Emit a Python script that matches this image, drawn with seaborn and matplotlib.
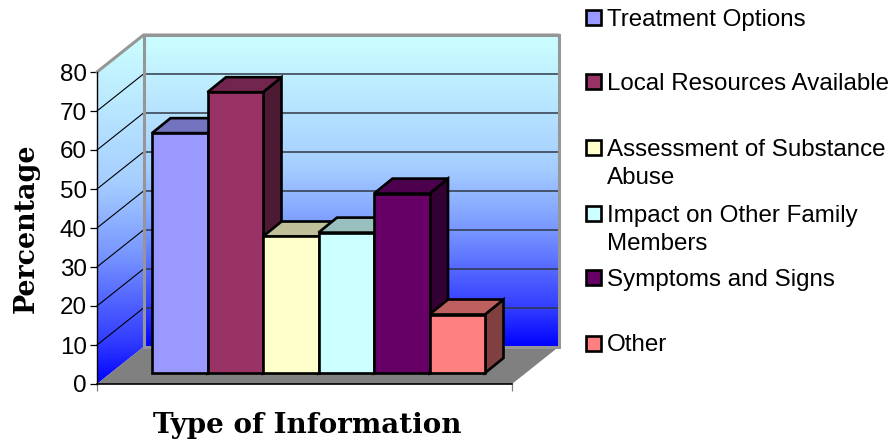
import numpy as np
import matplotlib
matplotlib.use("Agg")
import matplotlib.pyplot as plt
import seaborn as sns
from matplotlib.colors import LinearSegmentedColormap, to_rgb
from matplotlib.patches import Polygon, Rectangle

categories = ["Treatment Options", "Local Resources Available",
              "Assessment of Substance\nAbuse", "Impact on Other Family\nMembers",
              "Symptoms and Signs", "Other"]
values = [61.5, 72, 35, 36, 46, 15]
colors = ["#9999FF", "#993366", "#FFFFCC", "#CCFFFF", "#660066", "#FF8080"]
y_ticks = [0, 10, 20, 30, 40, 50, 60, 70, 80]

W, H = 893, 440
sns.set_theme(style="white")
plt.rcParams["font.family"] = ["Liberation Sans", "DejaVu Sans"]

fig = plt.figure(figsize=(W / 100, H / 100), dpi=100)


def px_axes(left, top, right, bottom):
    return fig.add_axes([left / W, 1 - bottom / H, (right - left) / W, (bottom - top) / H])


# main axes = front plane of the chart box
ax = px_axes(97, 72, 512, 384)
ax.set_xlim(0, 1)
ax.set_ylim(0, 80)
ax.patch.set_visible(False)
dx = 46.5 / 415
dy = 37 / 3.9

wall_cmap = LinearSegmentedColormap.from_list(
    "wall", [(0, "#CCFFFF"), (0.43, "#A5CDFF"), (0.63, "#7896FF"),
             (0.75, "#5569FF"), (0.88, "#323CFF"), (1, "#0000FF")])
grad = np.linspace(0, 1, 256).reshape(-1, 1)

back_wall = Polygon([(dx, dy), (1 + dx, dy), (1 + dx, 80 + dy), (dx, 80 + dy)], closed=True,
                    fc="none", ec="#969696", lw=2.2, clip_on=False, zorder=2.5)
left_wall = Polygon([(0, 0), (dx, dy), (dx, 80 + dy), (0, 80)], closed=True,
                    fc="none", ec="none", clip_on=False, zorder=2.5)
floor = Polygon([(0, 0), (1, 0), (1 + dx, dy), (dx, dy)], closed=True,
                fc="#808080", ec="none", clip_on=False, zorder=1.5)
for p in (back_wall, left_wall, floor):
    ax.add_patch(p)

im1 = ax.imshow(grad, cmap=wall_cmap, aspect="auto", origin="upper", zorder=1,
                extent=(dx, 1 + dx, dy, 80 + dy))
im2 = ax.imshow(grad, cmap=wall_cmap, aspect="auto", origin="upper", zorder=1,
                extent=(0, dx, 0, 80 + dy))
im1.set_clip_box(fig.bbox)
im2.set_clip_box(fig.bbox)
im2.set_clip_path(left_wall)
ax.set_xlim(0, 1)
ax.set_ylim(0, 80)

# gridlines on both walls
for v in y_ticks[1:]:
    ax.plot([dx, 1 + dx], [v + dy, v + dy], color="#303845", lw=1.1, clip_on=False, zorder=2)
    ax.plot([0, dx], [v, v + dy], color="black", lw=0.8, clip_on=False, zorder=2)
ax.plot([0, dx, 1 + dx], [80, 80 + dy, 80 + dy], color="#969696", lw=2.2, clip_on=False, zorder=2.5)

sns.despine(ax=ax)
ax.spines["left"].set_color("black")
ax.spines["bottom"].set_color("black")
ax.spines["left"].set_linewidth(1)
ax.spines["bottom"].set_linewidth(1.2)
ax.set_yticks(y_ticks)
ax.set_xticks([0, 1])
ax.set_xticklabels([])
ax.tick_params(axis="y", length=5, width=0.9, color="black", left=True, pad=2.5, labelsize=17.4, labelcolor="black")
ax.tick_params(axis="x", length=5, width=0.9, color="#808080", bottom=True)
ax.set_ylabel("Percentage", family="DejaVu Serif", fontweight="bold", fontsize=19.4, color="black")
ax.yaxis.set_label_coords(-0.139, 0.5)
ax.set_xlabel("Type of Information", family="DejaVu Serif", fontweight="bold", fontsize=20, color="black")
ax.xaxis.set_label_coords(0.506, -0.091)

# bars sit on the floor, set back from the front plane
bar_ax = px_axes(152, 61, 485, 373)
sns.barplot(x=categories, y=values, hue=categories, palette=colors, saturation=1, dodge=False,
            width=1, legend=False, edgecolor="black", linewidth=1.9, ax=bar_ax)
bar_ax.set_xlim(-0.5, 5.5)
bar_ax.set_ylim(0, 80)
bar_ax.axis("off")
bx = 18.5 / 55.5
by = 15 / 3.9

for i, bar in enumerate(bar_ax.patches):
    x0, w, h = bar.get_x(), bar.get_width(), bar.get_height()
    x1 = x0 + w
    rgb = np.array(to_rgb(colors[i]))
    z = 3 + i
    bar.set_zorder(z)
    bar.set_clip_on(False)
    bar.set_joinstyle("miter")
    side = Polygon([(x1, 0), (x1 + bx, by), (x1 + bx, h + by), (x1, h)], closed=True,
                   fc=rgb * 0.5, ec="black", lw=1.9, clip_on=False, zorder=z - 0.2)
    top = Polygon([(x0, h), (x0 + bx, h + by), (x1 + bx, h + by), (x1, h)], closed=True,
                  fc=rgb * 0.75, ec="black", lw=1.9, clip_on=False, zorder=z - 0.1)
    bar_ax.add_patch(side)
    bar_ax.add_patch(top)

# legend keeps the first line of each entry on an even step, like the original
legend_y = [18, 82, 148, 214, 278, 343]
for label, color, ly in zip(categories, colors, legend_y):
    fig.add_artist(Rectangle((585.5 / W, 1 - (ly + 7.5) / H), 15 / W, 15 / H, fc=color, ec="black", lw=1.9,
                             transform=fig.transFigure))
    fig.text(607 / W, 1 - (ly - 9) / H, label, fontsize=17.4, color="black", va="top", ha="left",
             linespacing=1.36)

fig.savefig("out.png", dpi=100)
